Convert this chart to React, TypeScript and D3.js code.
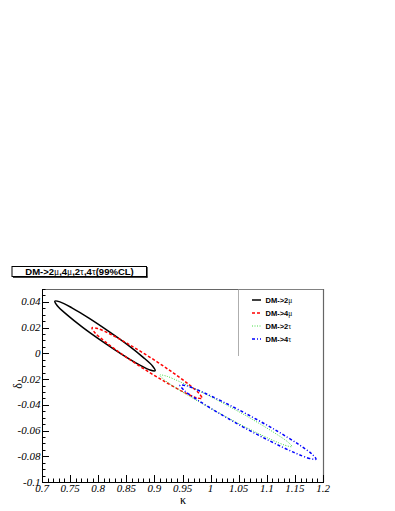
import React from "react";
import * as d3 from "d3";

// ---- data (kappa, delta) contour points ----
const kappa2mu = [0.9014, 0.8923, 0.871, 0.8407, 0.806, 0.7724, 0.7447, 0.7272, 0.7228, 0.7319, 0.7532, 0.7835, 0.8181, 0.8519, 0.8795, 0.897];
const delta2mu = [-0.0135, -0.013, -0.0084, -0.0004, 0.0097, 0.0202, 0.0299, 0.037, 0.0406, 0.04, 0.0354, 0.0274, 0.0173, 0.0068, -0.0029, -0.01];

const kappa4mu = [0.9846, 0.9748, 0.9516, 0.9185, 0.8806, 0.8437, 0.8133, 0.7941, 0.789, 0.7989, 0.8221, 0.8552, 0.893, 0.93, 0.9604, 0.9796];
const delta4mu = [-0.0349, -0.0345, -0.03, -0.022, -0.0119, -0.0011, 0.0087, 0.016, 0.0198, 0.0193, 0.0148, 0.0068, -0.0033, -0.0141, -0.0239, -0.0312];

const kappa2tau = [1.145, 1.1343, 1.1074, 1.0683, 1.0229, 0.9783, 0.9411, 0.9171, 0.9098, 0.9205, 0.9474, 0.9865, 1.0319, 1.0765, 1.1137, 1.1377];
const delta2tau = [-0.0725, -0.0717, -0.0669, -0.0587, -0.0483, -0.0374, -0.0276, -0.0204, -0.0169, -0.0176, -0.0225, -0.0307, -0.041, -0.0519, -0.0618, -0.069];

const kappa4tau = [1.1875, 1.1762, 1.1482, 1.1078, 1.061, 1.0152, 0.9771, 0.9527, 0.9456, 0.9569, 0.9849, 1.0253, 1.072, 1.1179, 1.156, 1.1804];
const delta4tau = [-0.0822, -0.0817, -0.077, -0.0686, -0.058, -0.0466, -0.0363, -0.0287, -0.0248, -0.0252, -0.03, -0.0384, -0.049, -0.0603, -0.0706, -0.0783];

const seriesNames = ["2\u03bc", "4\u03bc", "2\u03c4", "4\u03c4"];
const xTickValues = [0.7, 0.75, 0.8, 0.85, 0.9, 0.95, 1.0, 1.05, 1.1, 1.15, 1.2];
const xTickLabels = ["0.7", "0.75", "0.8", "0.85", "0.9", "0.95", "1", "1.05", "1.1", "1.15", "1.2"];
const yTickValues = [0.04, 0.02, 0, -0.02, -0.04, -0.06, -0.08, -0.1];
const yTickLabels = ["0.04", "0.02", "0", "-0.02", "-0.04", "-0.06", "-0.08", "-0.1"];

const W = 395, H = 511;
const L = 42, R = 323, T = 289, B = 482;

export default function App() {
  const x = d3.scaleLinear().domain([0.7, 1.2]).range([L, R]);
  const y = d3.scaleLinear().domain([-0.1, 0.05]).range([B, T]);

  const line = d3
    .line<[number, number]>()
    .x((d) => x(d[0]))
    .y((d) => y(d[1]))
    .curve(d3.curveCatmullRomClosed.alpha(0.5));

  const series = [
    { k: kappa2mu, d: delta2mu, color: "#000000", dash: "", w: 1.5 },
    { k: kappa4mu, d: delta4mu, color: "#ff0000", dash: "3,2", w: 1.5 },
    { k: kappa2tau, d: delta2tau, color: "#44dd44", dash: "1,1.5", w: 1 },
    { k: kappa4tau, d: delta4tau, color: "#0000ff", dash: "3,2,1,2", w: 1.5 },
  ];

  const xMinor = d3.range(0.7, 1.2001, 0.01);
  const yMinor = d3.range(-0.1, 0.0501, 0.005);

  const serif = "Liberation Serif";
  const sans = "Liberation Sans";

  return (
    <svg width={W} height={H} style={{ position: "absolute", left: 0, top: 0, background: "#fff" }}>
      <rect x={0} y={0} width={W} height={H} fill="#fff" />
      {/* title box */}
      <rect x={12} y={266.5} width={134.5} height={10} fill="#fff" stroke="#000" strokeWidth={1} />
      <line x1={147} y1={267} x2={147} y2={277.5} stroke="#000" strokeWidth={1.2} />
      <line x1={13} y1={277.2} x2={147.5} y2={277.2} stroke="#000" strokeWidth={1.2} />
      <text x={79.5} y={274.8} textAnchor="middle" fontFamily={sans} fontWeight="bold" fontSize={9.5} fill="#000">
        DM-&gt;2<tspan fontWeight="normal" fontFamily={serif}>{"\u03bc"}</tspan>,4<tspan fontWeight="normal" fontFamily={serif}>{"\u03bc"}</tspan>,2<tspan fontWeight="normal" fontFamily={serif}>{"\u03c4"}</tspan>,4<tspan fontWeight="normal" fontFamily={serif}>{"\u03c4"}</tspan>(99%CL)
      </text>

      {/* data contours */}
      {series.map((s, i) => (
        <path
          key={i}
          d={line(s.k.map((kv, j) => [kv, s.d[j]] as [number, number])) || ""}
          fill="none"
          stroke={s.color}
          strokeWidth={s.w}
          strokeDasharray={s.dash || undefined}
        />
      ))}

      {/* frame */}
      <line x1={L} y1={T + 0.5} x2={R} y2={T + 0.5} stroke="#666" strokeWidth={1.2} />
      <line x1={R + 0.5} y1={T} x2={R + 0.5} y2={B} stroke="#666" strokeWidth={1.2} />
      <line x1={L + 0.5} y1={T} x2={L + 0.5} y2={B} stroke="#000" strokeWidth={1} />
      <line x1={L} y1={B + 0.5} x2={R + 1} y2={B + 0.5} stroke="#000" strokeWidth={1} />

      {/* x ticks */}
      {xMinor.map((v, i) => {
        const major = Math.abs(v * 20 - Math.round(v * 20)) < 1e-6;
        return (
          <line key={"xm" + i} x1={Math.round(x(v)) + 0.5} x2={Math.round(x(v)) + 0.5} y1={B} y2={B - (major ? 7 : 3.5)} stroke="#000" strokeWidth={1} />
        );
      })}
      {xTickValues.map((v, i) => (
        <text key={"xl" + i} x={x(v)} y={492} textAnchor="middle" fontFamily={serif} fontStyle="italic" fontSize={11} fill="#000">
          {xTickLabels[i]}
        </text>
      ))}
      {/* y ticks */}
      {yMinor.map((v, i) => {
        const major = Math.abs(v * 50 - Math.round(v * 50)) < 1e-6;
        return (
          <line key={"ym" + i} y1={Math.round(y(v)) + 0.5} y2={Math.round(y(v)) + 0.5} x1={L} x2={L + (major ? 7 : 3.5)} stroke="#000" strokeWidth={1} />
        );
      })}
      {yTickValues.map((v, i) => (
        <text key={"yl" + i} x={40.5} y={y(v) + 3.5} textAnchor="end" fontFamily={serif} fontStyle="italic" fontSize={11} fill="#000">
          {yTickLabels[i]}
        </text>
      ))}

      {/* axis titles */}
      <text x={183} y={504} textAnchor="middle" fontFamily={serif} fontSize={12} fill="#000">{"\u03ba"}</text>
      <text transform="translate(22,386) rotate(-90)" textAnchor="middle" fontFamily={serif} fontSize={12} fill="#000">{"\u03b4"}</text>

      {/* legend */}
      <line x1={238.5} x2={238.5} y1={289} y2={356} stroke="#999" strokeWidth={0.8} />
      <line x1={238.5} x2={323} y1={289.5} y2={289.5} stroke="#888" strokeWidth={0.8} />
      {series.map((s, i) => {
        const cy = 300 + i * 13;
        return (
          <g key={"lg" + i}>
            <line x1={252} x2={261} y1={cy} y2={cy} stroke={s.color} strokeWidth={s.w} strokeDasharray={s.dash || undefined} />
            <text x={265.5} y={cy + 2.7} fontFamily={sans} fontWeight="bold" fontSize={7.5} fill="#000">
              DM-&gt;{seriesNames[i][0]}
              <tspan fontWeight="normal" fontFamily={serif}>{seriesNames[i].slice(1)}</tspan>
            </text>
          </g>
        );
      })}
    </svg>
  );
}
